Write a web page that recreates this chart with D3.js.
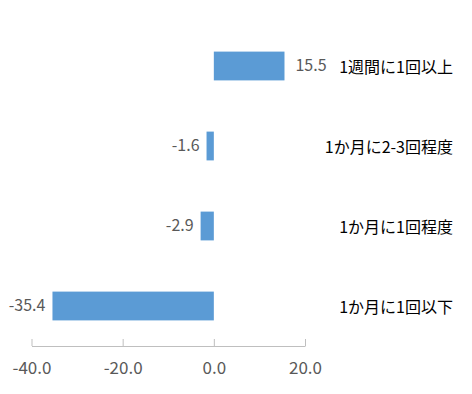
<!DOCTYPE html>
<html>
<head>
<meta charset="utf-8">
<script src="https://cdn.jsdelivr.net/npm/d3@7"></script>
<style>
  html, body { margin: 0; padding: 0; background: #fff; }
  svg { display: block; }
  text { font-family: "Noto Sans CJK JP", "Noto Sans", sans-serif; }
</style>
</head>
<body>
<svg id="chart" width="472" height="394"></svg>
<script>
const categories = ["1週間に1回以上", "1か月に2-3回程度", "1か月に1回程度", "1か月に1回以下"];
const values = [15.5, -1.6, -2.9, -35.4];
const tickValues = [-40, -20, 0, 20];

const svg = d3.select("#chart");
const x = d3.scaleLinear().domain([-40, 20]).range([31.5, 305]);
const y = d3.scaleBand().domain(categories).range([26, 346]).paddingInner(0.64).paddingOuter(0.32);

const data = categories.map((c, i) => ({ c, v: values[i] }));

svg.append("g").selectAll("rect").data(data).join("rect")
  .attr("x", d => x(Math.min(0, d.v)))
  .attr("y", d => y(d.c))
  .attr("width", d => Math.abs(x(d.v) - x(0)))
  .attr("height", y.bandwidth())
  .attr("fill", "#5B9BD5");

svg.append("g").selectAll("text").data(data).join("text")
  .attr("x", d => d.v >= 0 ? x(d.v) + 11 : x(d.v) - 7)
  .attr("y", d => y(d.c) + y.bandwidth() / 2 - 1)
  .attr("dy", "0.35em")
  .attr("text-anchor", d => d.v >= 0 ? "start" : "end")
  .attr("font-size", 16)
  .attr("fill", "#595959")
  .text(d => d.v.toFixed(1));

svg.append("g").selectAll("text").data(data).join("text")
  .attr("x", 453)
  .attr("y", d => y(d.c) + y.bandwidth() / 2 + 1)
  .attr("dy", "0.35em")
  .attr("text-anchor", "end")
  .attr("font-size", 16)
  .attr("fill", "#000")
  .text(d => d.c);

const axis = d3.axisBottom(x).tickValues(tickValues).tickSizeInner(-7).tickSizeOuter(0)
  .tickFormat(d => d.toFixed(1));
const gx = svg.append("g").attr("transform", "translate(0,346)").call(axis);
gx.select(".domain").attr("stroke", "#BFBFBF");
gx.selectAll(".tick line").attr("stroke", "#BFBFBF");
gx.selectAll(".tick text")
  .attr("y", 22).attr("dy", "0.35em")
  .attr("font-size", 17)
  .attr("font-family", "\"Noto Sans CJK JP\", sans-serif")
  .attr("fill", "#595959");
</script>
</body>
</html>
